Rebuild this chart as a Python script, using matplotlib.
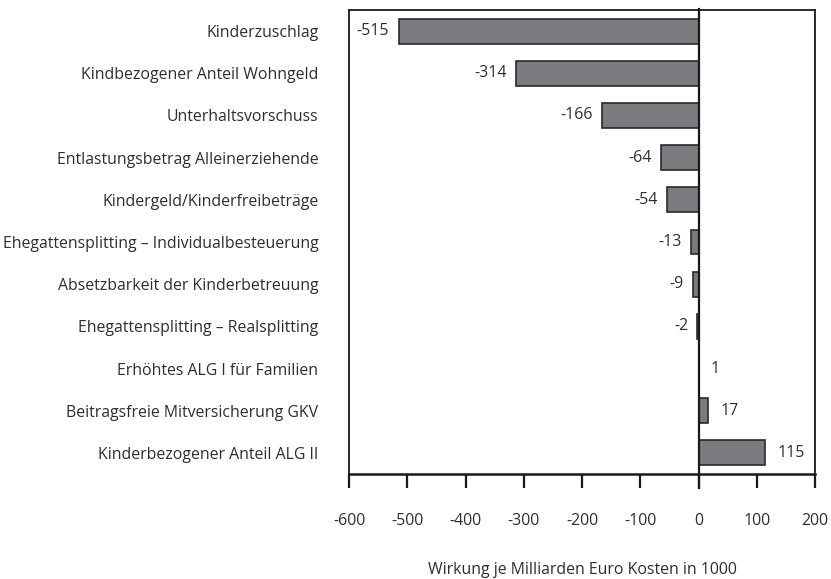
import matplotlib
matplotlib.use("Agg")
import matplotlib.pyplot as plt

categories = [
    "Kinderzuschlag",
    "Kindbezogener Anteil Wohngeld",
    "Unterhaltsvorschuss",
    "Entlastungsbetrag Alleinerziehende",
    "Kindergeld/Kinderfreibeträge",
    "Ehegattensplitting – Individualbesteuerung",
    "Absetzbarkeit der Kinderbetreuung",
    "Ehegattensplitting – Realsplitting",
    "Erhöhtes ALG I für Familien",
    "Beitragsfreie Mitversicherung GKV",
    "Kinderbezogener Anteil ALG II",
]
values = [-515, -314, -166, -64, -54, -13, -9, -2, 1, 17, 115]
xticks = [-600, -500, -400, -300, -200, -100, 0, 100, 200]
xlabel = "Wirkung je Milliarden Euro Kosten in 1000"

plt.rcParams['font.family'] = ['Open Sans', 'DejaVu Sans']
text_color = "#2e2e2e"
fs = 11.4

fig = plt.figure(figsize=(8.31, 5.79), dpi=100)
ax = fig.add_axes([349/831, 1-474/579, (815-349)/831, (474-10)/579])

y = list(range(len(categories)))
ax.barh(y, values, height=0.59, color="#7b7b7f", edgecolor="#2a2a2a", linewidth=1.2, zorder=2)
ax.axvline(0, color="#1a1a1a", linewidth=1.6, zorder=3, ymin=-0.03, ymax=1.003, clip_on=False)

for yi, v in zip(y, values):
    if v < 0:
        ax.text(v - 16, yi, str(v), ha="right", va="center", fontsize=fs, color=text_color)
    else:
        ax.text(v + 20, yi, str(v), ha="left", va="center", fontsize=fs, color=text_color)

ax.set_xlim(-600, 200)
ax.set_ylim(len(categories) - 0.5, -0.5)
ax.set_yticks(y)
ax.set_yticklabels(categories, fontsize=fs, color=text_color)
ax.tick_params(axis="y", length=0, pad=22)
ax.set_xticks(xticks)
ax.set_xticklabels([str(t) for t in xticks], fontsize=fs, color=text_color)
ax.tick_params(axis="x", direction="out", length=10, width=1.6, pad=18, color="#1a1a1a")
ax.set_xlabel(xlabel, fontsize=fs, color=text_color, labelpad=24)

for s in ax.spines.values():
    s.set_linewidth(1.3)
    s.set_color("#1a1a1a")
ax.spines["bottom"].set_linewidth(1.8)

fig.savefig("out.png", dpi=100)
